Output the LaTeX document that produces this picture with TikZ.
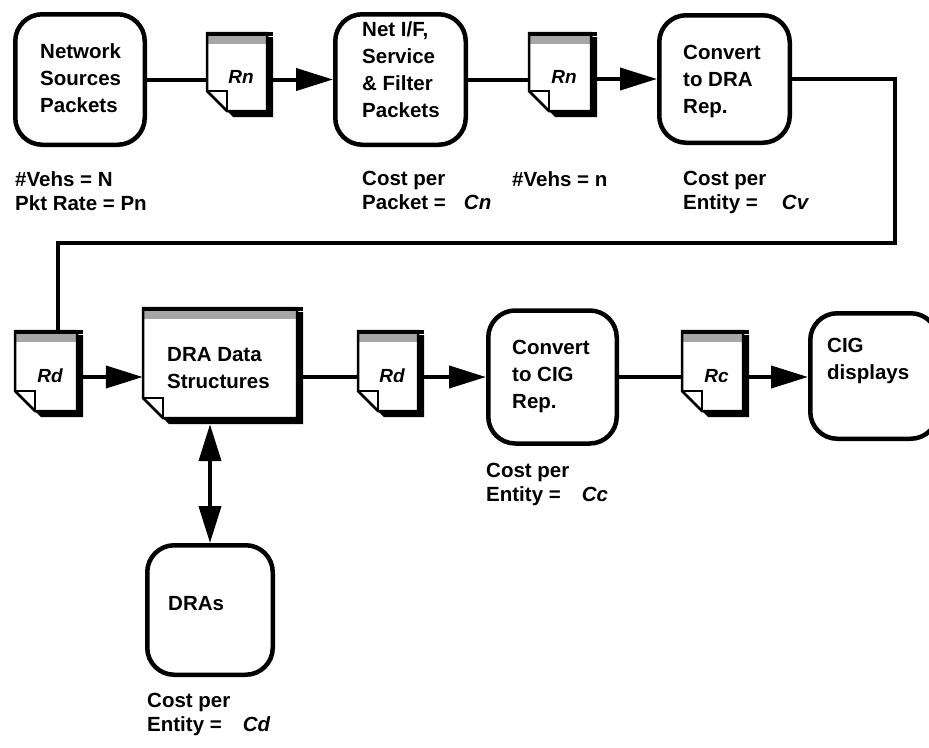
\documentclass[tikz,border=0pt]{standalone}
\usepackage{fontspec}
\setmainfont{Liberation Sans}
\usetikzlibrary{arrows.meta,fit}
\tikzset{
  x=1pt, y=-1pt,
  proc/.style={draw, line width=4.5pt, rounded corners=27pt, inner sep=0pt},
  boxtxt/.style={anchor=north west, inner sep=0pt, align=left, font=\fontsize{20.5}{27}\selectfont\bfseries},
  lbl/.style={anchor=north west, inner sep=0pt, align=left, font=\fontsize{20.5}{24}\selectfont\bfseries},
  doclbl/.style={inner sep=0pt, font=\fontsize{19}{22}\selectfont\bfseries\itshape},
  conn/.style={line width=4pt},
  arr/.style={conn, -{Triangle[length=37pt,width=22pt]}},
  darr/.style={conn, {Triangle[length=37pt,width=22pt]}-{Triangle[length=37pt,width=22pt]}},
}
% name, x0, y0, x1, y1, label
\newcommand\docicon[6]{%
  \fill[black] ({#2+6},{#3+4}) -- ({#4+6},{#3+4}) -- ({#4+6},{#5+6}) -- ({#2+26},{#5+6}) -- ({#2+6},{#5-14}) -- cycle;
  \fill[white] (#2,#3) -- (#4,#3) -- (#4,#5) -- ({#2+20},#5) -- (#2,{#5-20}) -- cycle;
  \fill[gray!70] (#2,#3) rectangle (#4,{#3+11});
  \draw[line width=2.5pt, line join=miter] (#2,#3) -- (#4,#3) -- (#4,#5) -- ({#2+20},#5) -- (#2,{#5-20}) -- cycle;
  \draw[line width=3.5pt] (#2,{#3+1}) -- ({#4+6},{#3+1});
  \draw[line width=2pt] (#2,{#5-20}) -- ({#2+20},{#5-20}) -- ({#2+20},#5);
  \node[fit={(#2,#3) ({#4+6},{#5+6})}, inner sep=0pt] (#1) {};
  \node[doclbl] (#1-l) at ({(#2+#4)/2+4},{(#3+#5)/2+5}) {#6};
}
\begin{document}
\begin{tikzpicture}
\useasboundingbox (0,0) rectangle (929,747);
\clip (0,0) rectangle (929,747);

% process boxes
\node[proc, minimum width=129.5pt, minimum height=130.5pt] (B1) at (80,79.5) {};
\node[proc, minimum width=130.5pt, minimum height=130.5pt] (B2) at (400.5,79.5) {};
\node[proc, minimum width=130.5pt, minimum height=127.5pt] (B3) at (724.5,79) {};
\node[proc, minimum width=128.5pt, minimum height=133pt] (B4) at (552.5,377) {};
\node[proc, minimum width=127.5pt, minimum height=125.5pt] (B5) at (874,376) {};
\node[proc, minimum width=125.5pt, minimum height=129.5pt] (DRAs) at (210,610) {};

% texts in boxes
\node[boxtxt] (t1) at (40,43) {Network\\Sources\\Packets};
\node[boxtxt] (t2) at (362,21) {Net I/F,\\Service\\\& Filter\\Packets};
\node[boxtxt] (t3) at (683,45) {Convert\\to DRA\\Rep.};
\node[boxtxt] (t4) at (512,340) {Convert\\to CIG\\Rep.};
\node[boxtxt] (t5) at (827,338) {CIG\\displays};
\node[boxtxt] (t6) at (168,596) {DRAs};

% labels
\node[lbl] (l1) at (15,171) {\#Vehs = N\\Pkt Rate = Pn};
\node[lbl] (l2) at (362,171) {Cost per\\Packet = \hspace{0.6em}\textit{Cn}};
\node[lbl] (l3) at (512,171) {\#Vehs = n};
\node[lbl] (l4) at (683,171) {Cost per\\Entity = \hspace{0.9em}\textit{Cv}};
\node[lbl] (l5) at (486,463) {Cost per\\Entity = \hspace{0.75em}\textit{Cc}};
\node[lbl] (l6) at (147,693) {Cost per\\Entity = \hspace{0.75em}\textit{Cd}};

% route coordinates
\coordinate (r1) at (895,79);
\coordinate (r2) at (58,243);

% documents
\docicon{D1}{207}{33}{267}{111}{Rn}
\docicon{D2}{529}{33}{591}{111}{Rn}
\docicon{D3}{15}{331}{77}{411}{Rd}
\docicon{D4}{358}{331}{418}{411}{Rd}
\docicon{D5}{682}{331}{743}{411}{Rc}
\docicon{DS}{143}{308}{297}{418}{}
\node[boxtxt] (t8) at (167,347) {DRA Data\\Structures};

% connectors top row
\draw[conn] (B1.east) -- (D1.west |- B1.east);
\draw[arr] (D1.east |- B2.west) -- (B2.west);
\draw[conn] (B2.east) -- (D2.west |- B2.east);
\draw[arr] (D2.east |- B3.west) -- (B3.west);

% route down to second row
\draw[conn, line join=miter] (B3.east) -- (r1) -- (r1 |- r2) -- (r2) -- (r2 |- D3.north);

% connectors bottom row
\draw[arr] (D3.east |- B4.west) -- (DS.west |- B4.west);
\draw[conn] (DS.east |- B4.west) -- (D4.west |- B4.west);
\draw[arr] (D4.east |- B4.west) -- (B4.west);
\draw[conn] (B4.east) -- (D5.west |- B4.east);
\draw[arr] (D5.east |- B4.east) -- (B5.west |- B4.east);
\draw[darr] (DRAs.north |- DS.south) -- (DRAs.north);
\end{tikzpicture}
\end{document}
